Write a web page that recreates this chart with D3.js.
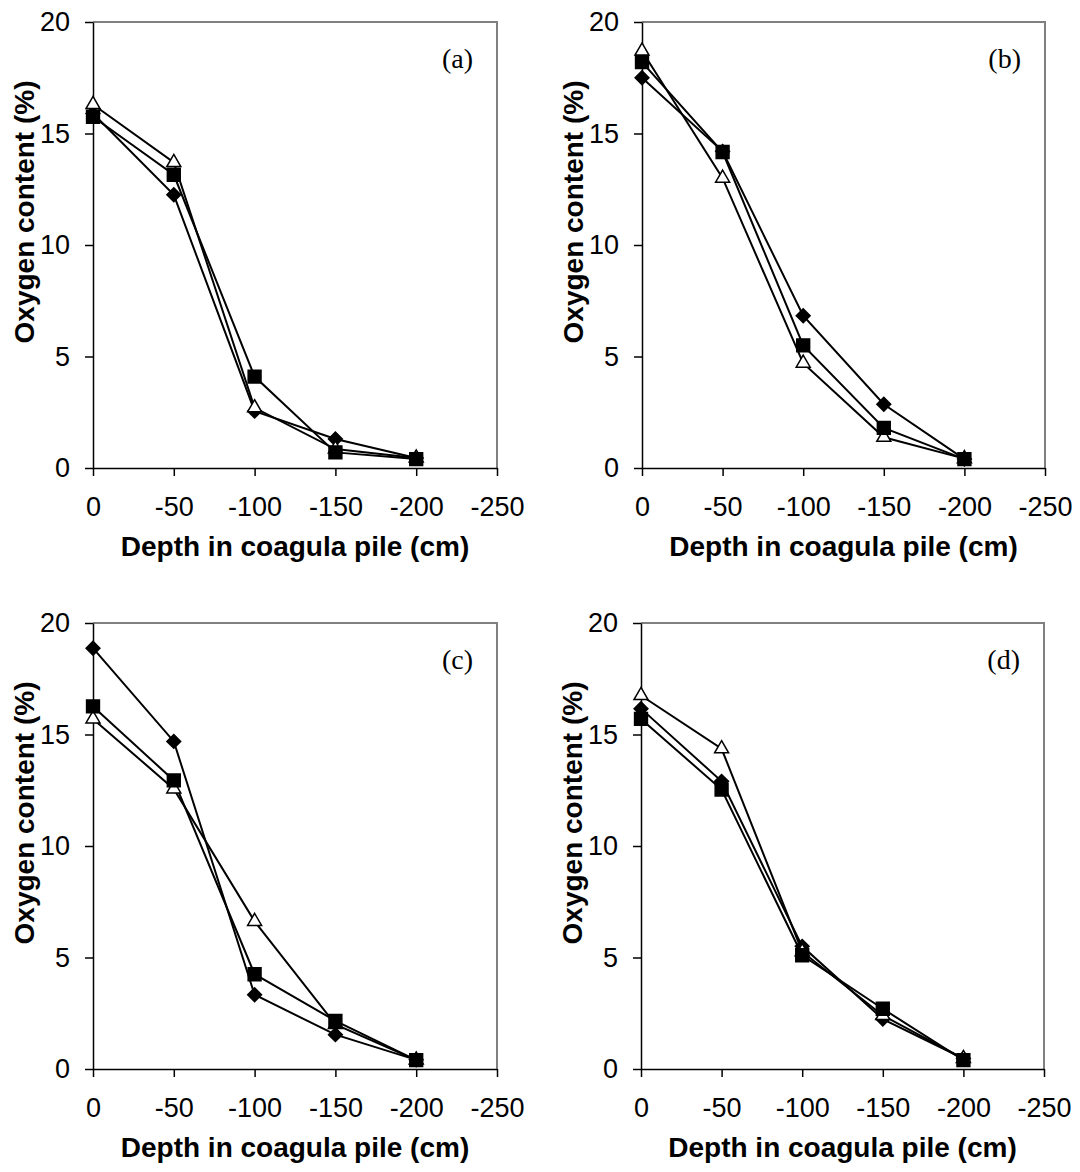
<!DOCTYPE html>
<html>
<head>
<meta charset="utf-8">
<script src="https://cdn.jsdelivr.net/npm/d3@7"></script>
<style>
  body { margin: 0; background: #fff; }
  text { font-family: "Liberation Sans", Arial, sans-serif; fill: #000; }
</style>
</head>
<body>
<script>
const w = 1080;
const h = 1172;

const depths = [0, -50, -100, -150, -200];
const xTicks = [0, -50, -100, -150, -200, -250];
const yTicks = [0, 5, 10, 15, 20];
const panelNames = ['(a)', '(b)', '(c)', '(d)'];
const xTitle = 'Depth in coagula pile (cm)';
const yTitle = 'Oxygen content (%)';

// filled diamonds, one row per panel
const diamondVals = [
  [15.9, 12.25, 2.55, 1.3, 0.45],
  [17.5, 14.2, 6.83, 2.86, 0.4],
  [18.87, 14.69, 3.33, 1.54, 0.41],
  [16.16, 12.9, 5.5, 2.24, 0.47]
];
// filled squares
const squareVals = [
  [15.75, 13.15, 4.1, 0.7, 0.4],
  [18.2, 14.17, 5.5, 1.8, 0.4],
  [16.26, 12.94, 4.25, 2.16, 0.4],
  [15.7, 12.53, 5.1, 2.7, 0.4]
];
// open triangles
const triangleVals = [
  [16.3, 13.7, 2.7, 0.85, 0.45],
  [18.7, 13.0, 4.7, 1.38, 0.42],
  [15.7, 12.56, 6.62, 2.0, 0.4],
  [16.75, 14.36, 5.26, 2.4, 0.47]
];

// plot boxes (layout only)
const boxes = [
  {x0: 93, x1: 497, y0: 22, y1: 468},
  {x0: 642, x1: 1045, y0: 22, y1: 468},
  {x0: 93, x1: 497, y0: 623, y1: 1069},
  {x0: 641, x1: 1044, y0: 623, y1: 1069}
];

let svg = d3.select('body')
  .append('svg')
  .attr('width', w)
  .attr('height', h);

let drawPanel = (b, i) => {
  let x = d3.scaleLinear().domain([0, -250]).range([b.x0, b.x1]);
  let y = d3.scaleLinear().domain([0, 20]).range([b.y1, b.y0]);
  let g = svg.append('g');

  // grey frame on top and right
  g.append('path')
    .attr('d', `M${b.x0},${b.y0}H${b.x1}V${b.y1}`)
    .attr('fill', 'none')
    .attr('stroke', '#808080')
    .attr('stroke-width', 2);

  // plain hyphen for negatives, like the original
  let xAxis = d3.axisBottom(x).tickValues(xTicks).tickFormat(d => String(d))
    .tickSize(8).tickSizeOuter(0).tickPadding(21);
  let gx = g.append('g')
    .attr('transform', `translate(0,${b.y1})`)
    .call(xAxis);

  let yAxis = d3.axisLeft(y).tickValues(yTicks).tickFormat(d => String(d))
    .tickSize(8).tickSizeOuter(0).tickPadding(15);
  let gy = g.append('g')
    .attr('transform', `translate(${b.x0},0)`)
    .call(yAxis);

  [gx, gy].forEach(a => {
    a.selectAll('path, line').attr('stroke', '#000').attr('stroke-width', 1.5);
    a.selectAll('text')
      .style('font-family', '"Liberation Sans", Arial, sans-serif')
      .style('font-size', '27px')
      .attr('fill', '#000');
  });

  // axis titles
  g.append('text')
    .attr('x', (b.x0 + b.x1) / 2)
    .attr('y', b.y1 + 88)
    .attr('text-anchor', 'middle')
    .style('font-size', '28px')
    .style('font-weight', 'bold')
    .text(xTitle);

  g.append('text')
    .attr('transform', `translate(${b.x0 - 59},${(b.y0 + b.y1) / 2 - 33}) rotate(-90)`)
    .attr('text-anchor', 'middle')
    .style('font-size', '28px')
    .style('font-weight', 'bold')
    .text(yTitle);

  // panel letter
  g.append('text')
    .attr('x', b.x1 - 24)
    .attr('y', b.y0 + 46)
    .attr('text-anchor', 'end')
    .style('font-family', '"Liberation Serif", "Times New Roman", serif')
    .style('font-size', '28px')
    .text(panelNames[i]);

  let line = d3.line()
    .x((d, j) => x(depths[j]))
    .y(d => y(d));

  let series = [
    {vals: diamondVals[i], sym: d3.symbol(d3.symbolSquare, 95), rot: 45, fill: '#000'},
    {vals: triangleVals[i], sym: d3.symbol(d3.symbolTriangle, 85), rot: 0, fill: '#fff'},
    {vals: squareVals[i], sym: d3.symbol(d3.symbolSquare, 165), rot: 0, fill: '#000'}
  ];

  series.forEach(s => {
    g.append('path')
      .datum(s.vals)
      .attr('d', line)
      .attr('fill', 'none')
      .attr('stroke', '#000')
      .attr('stroke-width', 2);
  });

  series.forEach(s => {
    g.selectAll(null)
      .data(s.vals)
      .enter()
      .append('path')
      .attr('d', s.sym)
      .attr('transform', (d, j) => `translate(${x(depths[j])},${y(d)}) rotate(${s.rot})`)
      .attr('fill', s.fill)
      .attr('stroke', '#000')
      .attr('stroke-width', 1.5);
  });
};

boxes.forEach(drawPanel);
</script>
</body>
</html>
